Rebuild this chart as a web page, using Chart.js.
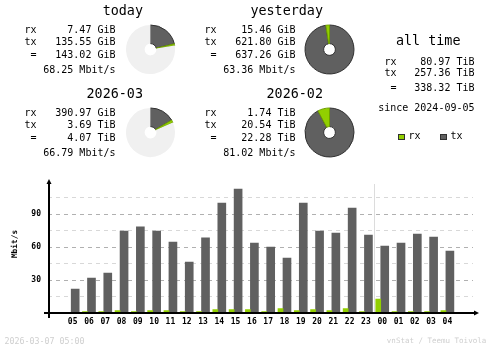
<!DOCTYPE html>
<html>
<head>
<meta charset="utf-8">
<script src="https://cdn.jsdelivr.net/npm/chart.js@4.4.1/dist/chart.umd.min.js"></script>
<style>
  html, body { margin: 0; padding: 0; background: #fff; }
  body { position: relative; width: 500px; height: 348px; overflow: hidden; }
  canvas { position: absolute; }
  .txt { position: absolute; white-space: pre; line-height: 1; font-family: 'DejaVu Sans Mono', monospace; color: #000; }
  .sq { position: absolute; box-sizing: border-box; width: 7px; height: 6px; border: 1px solid #303030; }
</style>
</head>
<body>
<canvas id="hours" width="500" height="348" style="left:0;top:0"></canvas>
<script>
// hourly rates, Mbit/s
const hours = ["05", "06", "07", "08", "09", "10", "11", "12", "13", "14", "15", "16",
  "17", "18", "19", "20", "21", "22", "23", "00", "01", "02", "03", "04"];
const rxRate = [0, 1.5, 1.5, 2.5, 1.5, 2.5, 2.5, 1.5, 1.5, 3.3, 3.3, 3.3,
  1.5, 4.2, 2.5, 3.3, 2.5, 4.2, 1.5, 13, 1.5, 1.5, 1.5, 2.5];
const txRate = [22.1, 32.1, 36.6, 74.8, 78.5, 74.8, 64.8, 46.6, 68.5, 100.3, 113, 63.9,
  60.3, 50.3, 100.3, 74.8, 73, 95.7, 71.2, 61.2, 63.9, 72.1, 69.4, 56.6];

// summary blocks
const periods = ["today", "yesterday", "2026-03", "2026-02"];
const rxText = ["7.47 GiB", "15.46 GiB", "390.97 GiB", "1.74 TiB"];
const txText = ["135.55 GiB", "621.80 GiB", "3.69 TiB", "20.54 TiB"];
const totalText = ["143.02 GiB", "637.26 GiB", "4.07 TiB", "22.28 TiB"];
const rateText = ["68.25 Mbit/s", "63.36 Mbit/s", "66.79 Mbit/s", "81.02 Mbit/s"];
// same values in GiB for the pies
const rxGiB = [7.47, 15.46, 390.97, 1.74 * 1024];
const txGiB = [135.55, 621.80, 3.69 * 1024, 20.54 * 1024];
const compareTo = [1, 1, 3, 3];

const allTime = [["rx", "80.97 TiB"], ["tx", "257.36 TiB"], [" =", "338.32 TiB"]];
const sinceText = "since 2024-09-05";
const stamp = "2026-03-07 05:00";
const credit = "vnStat / Teemu Toivola";

const RX = "#92CF00", RXD = "#6F9F00", TX = "#606060", TXD = "#303030", REST = "#F0F0F0";

function put(text, x, base, size, align, color) {
  var d = document.createElement("div");
  d.className = "txt";
  d.textContent = text;
  d.style.fontSize = size + "px";
  d.style.top = (base - 0.846 * size) + "px";
  if (align === "right") d.style.right = (500 - x) + "px";
  else d.style.left = x + "px";
  if (color) d.style.color = color;
  document.body.appendChild(d);
}

// the four period blocks
var blockX = [0, 180, 0, 180];
var blockY = [0, 0, 82.7, 82.7];
periods.forEach(function (p, i) {
  var bx = blockX[i], by = blockY[i];
  put(p, 143 + bx, 15.5 + by, 13.4, "right");
  put("rx", 24.5 + bx, 33.3 + by, 10);
  put(rxText[i], 115.5 + bx, 33.3 + by, 10, "right");
  put("tx", 24.5 + bx, 45.7 + by, 10);
  put(txText[i], 115.5 + bx, 45.7 + by, 10, "right");
  put(" =", 24.5 + bx, 58.3 + by, 10);
  put(totalText[i], 115.5 + bx, 58.3 + by, 10, "right");
  put(rateText[i], 115.5 + bx, 73.3 + by, 10, "right");

  // pie: tx then rx clockwise from 12 o'clock, rest compared with the previous period
  var total = rxGiB[i] + txGiB[i];
  var ref = rxGiB[compareTo[i]] + txGiB[compareTo[i]];
  var cv = document.createElement("canvas");
  cv.width = 51; cv.height = 51;
  cv.style.left = (bx === 0 ? 125 : 304) + "px";
  cv.style.top = (by === 0 ? 24 : 107) + "px";
  document.body.appendChild(cv);
  new Chart(cv, {
    type: "doughnut",
    data: {
      datasets: [{
        data: [txGiB[i], rxGiB[i], Math.max(ref - total, 0)],
        backgroundColor: [TX, RX, REST],
        borderColor: [TXD, RXD, REST],
        borderWidth: [1, 1, 0],
      }],
    },
    options: {
      responsive: false,
      animation: false,
      events: [],
      radius: 24.5,
      cutout: 6,
      plugins: { legend: { display: false }, tooltip: { enabled: false } },
    },
  });
});

// all time block
put("all time", 396, 45, 13.4);
var allBase = [65.7, 76, 91.7];
allTime.forEach(function (row, i) {
  put(row[0], 384.5, allBase[i], 10);
  put(row[1], 474.5, allBase[i], 10, "right");
});
put(sinceText, 474.5, 111.7, 10, "right");

// legend
[["rx", RX, 398], ["tx", TX, 440]].forEach(function (l) {
  var s = document.createElement("div");
  s.className = "sq";
  s.style.left = l[2] + "px";
  s.style.top = "134px";
  s.style.background = l[1];
  document.body.appendChild(s);
  put(l[0], l[2] + 10.5, 139.7, 10);
});

put(stamp, 4.5, 343.7, 8.3, "left", "#CFCFCF");
put(credit, 486.2, 343.7, 7.5, "right", "#CFCFCF");

const tickFont = { family: "'DejaVu Sans Mono', monospace", size: 8, weight: "bold" };

const axesPlugin = {
  id: "axes",
  beforeDatasetsDraw: function (c) {
    var ctx = c.ctx, a = c.chartArea;
    var cut = hours.indexOf("00");
    var rxBars = c.getDatasetMeta(0).data, txBars = c.getDatasetMeta(1).data;
    var xs = (txBars[cut - 1].x + txBars[cut - 1].width / 2 + rxBars[cut].x - rxBars[cut].width / 2) / 2;
    ctx.save();
    ctx.fillStyle = "#DCDCDC";
    ctx.fillRect(Math.round(xs), 184, 1, a.bottom - 184);
    ctx.restore();
  },
  afterDatasetsDraw: function (c) {
    var ctx = c.ctx, a = c.chartArea;
    var bottom = Math.round(a.bottom);
    ctx.save();
    ctx.fillStyle = "#000";
    // y axis with arrow
    ctx.fillRect(a.left, 182, 2, bottom + 5 - 182);
    ctx.beginPath();
    ctx.moveTo(a.left + 1, 179);
    ctx.lineTo(a.left - 1.5, 184);
    ctx.lineTo(a.left + 3.5, 184);
    ctx.closePath();
    ctx.fill();
    // x axis with arrow
    ctx.fillRect(a.left - 4, bottom - 1, 476 - (a.left - 4), 2);
    ctx.beginPath();
    ctx.moveTo(479, bottom);
    ctx.lineTo(474, bottom - 2.5);
    ctx.lineTo(474, bottom + 2.5);
    ctx.closePath();
    ctx.fill();
    // axis title
    ctx.translate(17.3, 244);
    ctx.rotate(-Math.PI / 2);
    ctx.font = "bold 7.8px 'DejaVu Sans Mono', monospace";
    ctx.textAlign = "center";
    ctx.textBaseline = "alphabetic";
    ctx.fillText("Mbit/s", 0, 0);
    ctx.restore();
  },
};

new Chart(document.getElementById("hours"), {
  type: "bar",
  data: {
    datasets: [
      { label: "rx", data: hours.map(function (h, i) { return { x: i, y: rxRate[i] }; }), backgroundColor: RX, barThickness: 5 },
      { label: "tx", data: hours.map(function (h, i) { return { x: i, y: txRate[i] }; }), backgroundColor: TX, barThickness: 8 },
    ],
  },
  options: {
    responsive: false,
    animation: false,
    events: [],
    layout: { padding: { top: 181.3, right: 27, bottom: 0, left: 0 } },
    plugins: { legend: { display: false }, tooltip: { enabled: false } },
    scales: {
      x: {
        type: "linear",
        min: -0.88,
        max: 24.12,
        grid: { display: false },
        border: { display: false },
        ticks: {
          autoSkip: false,
          maxRotation: 0,
          labelOffset: 1.5,
          padding: -4,
          color: "#000",
          font: tickFont,
          callback: function (v) { return hours[v] !== undefined ? hours[v] : ""; },
        },
        afterBuildTicks: function (s) { s.ticks = hours.map(function (h, i) { return { value: i }; }); },
        afterFit: function (s) { s.height = 34.7; },
      },
      y: {
        min: 0,
        max: 120,
        grid: {
          drawTicks: false,
          color: function (ctx) {
            var v = ctx.tick ? ctx.tick.value : 0;
            if (v === 0 || v === 120) return "rgba(0,0,0,0)";
            return v % 30 === 0 ? "#B0B0B0" : "#D8D8D8";
          },
        },
        border: { display: false, dash: [4, 4] },
        ticks: {
          stepSize: 15,
          padding: 7,
          color: "#000",
          font: tickFont,
          callback: function (v) { return (v % 30 === 0 && v > 0 && v < 120) ? v : ""; },
        },
        afterFit: function (s) { s.width = 48; },
      },
    },
  },
  plugins: [axesPlugin],
});
</script>
</body>
</html>
